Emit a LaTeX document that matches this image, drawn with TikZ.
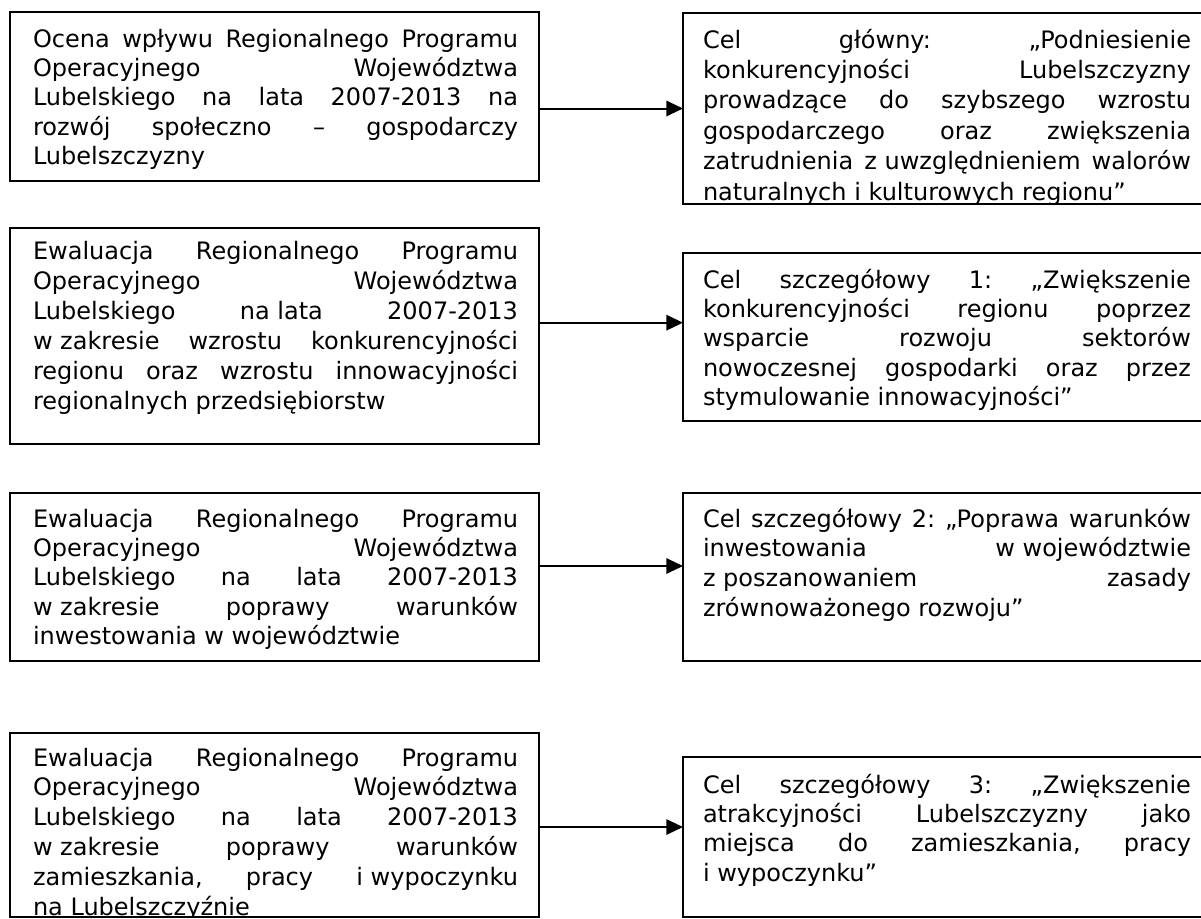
\documentclass[tikz,border=0pt]{standalone}
\usepackage{fontspec}
\setmainfont{DejaVu Sans}
\usetikzlibrary{arrows.meta}
\frenchspacing
\hbadness=10000
\newcommand{\fixsp}{\kern0.318em\relax}
\newcommand{\jline}[1]{\par\hbox to\hsize{#1}}
\newcommand{\lline}[1]{\par\hbox{#1}}
\newcommand{\tblock}[2]{\vtop{\hsize=#1\relax\parindent=0pt\relax #2}}
\begin{document}
\begin{tikzpicture}[x=0.75pt,y=-0.75pt,
  boxnode/.style={draw,line width=1.9pt,inner sep=0pt,outer sep=0pt,anchor=north west},
  lbox/.style={boxnode,minimum width=396.75pt},
  rbox/.style={boxnode,minimum width=399pt},
  txt/.style={inner sep=0pt,outer sep=0pt,anchor=base west,font=\fontsize{18pt}{#1}\selectfont\frenchspacing},
  txt/.default=22.1pt,
  arr/.style={line width=1.5pt,-{Triangle[length=12.5pt,width=11.5pt]}}
]
\fill[white] (0,0) rectangle (1201,918);
\useasboundingbox (0,0) rectangle (1201,918);

% boxes
\node[lbox,minimum height=126.75pt] (L1) at (10,12) {};
\node[rbox,minimum height=143.25pt] (R1) at (683,13) {};
\node[lbox,minimum height=162pt] (L2) at (10,228) {};
\node[rbox,minimum height=126pt] (R2) at (683,253) {};
\node[lbox,minimum height=126pt] (L3) at (10,493) {};
\node[rbox,minimum height=126pt] (R3) at (683,493) {};
\node[lbox,minimum height=138pt] (L4) at (10,733) {};
\node[rbox,minimum height=120pt] (R4) at (683,757) {};

% texts
\begin{scope}
\clip (L1.north west) rectangle (L1.south east);
\node[txt] (tL1) at (33,47) {\tblock{363.75pt}{%
\jline{Ocena wpływu Regionalnego Programu}%
\jline{Operacyjnego Województwa}%
\jline{Lubelskiego na lata 2007-2013 na}%
\jline{rozwój społeczno – gospodarczy}%
\lline{Lubelszczyzny}}};
\end{scope}

\begin{scope}
\clip (R1.north west) rectangle (R1.south east);
\node[txt=22.8pt] (tR1) at (703,48) {\tblock{366pt}{%
\jline{Cel główny: „Podniesienie}%
\jline{konkurencyjności Lubelszczyzny}%
\jline{prowadzące do szybszego wzrostu}%
\jline{gospodarczego oraz zwiększenia}%
\jline{zatrudnienia z\fixsp uwzględnieniem walorów}%
\lline{naturalnych i\fixsp kulturowych regionu”}}};
\end{scope}

\begin{scope}
\clip (L2.north west) rectangle (L2.south east);
\node[txt=22.6pt] (tL2) at (33,259) {\tblock{363.75pt}{%
\jline{Ewaluacja Regionalnego Programu}%
\jline{Operacyjnego Województwa}%
\jline{Lubelskiego na\fixsp lata 2007-2013}%
\jline{w\fixsp zakresie wzrostu konkurencyjności}%
\jline{regionu oraz wzrostu innowacyjności}%
\lline{regionalnych przedsiębiorstw}}};
\end{scope}

\begin{scope}
\clip (R2.north west) rectangle (R2.south east);
\node[txt] (tR2) at (703,288) {\tblock{366pt}{%
\jline{Cel szczegółowy 1: „Zwiększenie}%
\jline{konkurencyjności regionu poprzez}%
\jline{wsparcie rozwoju sektorów}%
\jline{nowoczesnej gospodarki oraz przez}%
\lline{stymulowanie innowacyjności”}}};
\end{scope}

\begin{scope}
\clip (L3.north west) rectangle (L3.south east);
\node[txt] (tL3) at (33,527) {\tblock{363.75pt}{%
\jline{Ewaluacja Regionalnego Programu}%
\jline{Operacyjnego Województwa}%
\jline{Lubelskiego na lata 2007-2013}%
\jline{w\fixsp zakresie poprawy warunków}%
\lline{inwestowania w województwie}}};
\end{scope}

\begin{scope}
\clip (R3.north west) rectangle (R3.south east);
\node[txt=22.4pt] (tR3) at (703,527) {\tblock{366pt}{%
\jline{Cel szczegółowy 2: „Poprawa warunków}%
\jline{inwestowania w\fixsp województwie}%
\jline{z\fixsp poszanowaniem zasady}%
\lline{zrównoważonego rozwoju”}}};
\end{scope}

\begin{scope}
\clip (L4.north west) rectangle (L4.south east);
\node[txt=22.4pt] (tL4) at (33,766) {\tblock{363.75pt}{%
\jline{Ewaluacja Regionalnego Programu}%
\jline{Operacyjnego Województwa}%
\jline{Lubelskiego na lata 2007-2013}%
\jline{w\fixsp zakresie poprawy warunków}%
\jline{zamieszkania, pracy i\fixsp wypoczynku}%
\lline{na Lubelszczyźnie}}};
\end{scope}

\begin{scope}
\clip (R4.north west) rectangle (R4.south east);
\node[txt] (tR4) at (703,793) {\tblock{366pt}{%
\jline{Cel szczegółowy 3: „Zwiększenie}%
\jline{atrakcyjności Lubelszczyzny jako}%
\jline{miejsca do zamieszkania, pracy}%
\lline{i\fixsp wypoczynku”}}};
\end{scope}

% connectors
\draw[arr] (L1.east |- R1.west) -- (R1.west);
\coordinate (a2) at ([yshift=10pt]L2.east);
\draw[arr] (a2) -- (a2 -| R2.west);
\coordinate (a3) at ([yshift=8.25pt]L3.east);
\draw[arr] (a3) -- (a3 -| R3.west);
\coordinate (a4) at ([yshift=-1.5pt]L4.east);
\draw[arr] (a4) -- (a4 -| R4.west);
\end{tikzpicture}
\end{document}
